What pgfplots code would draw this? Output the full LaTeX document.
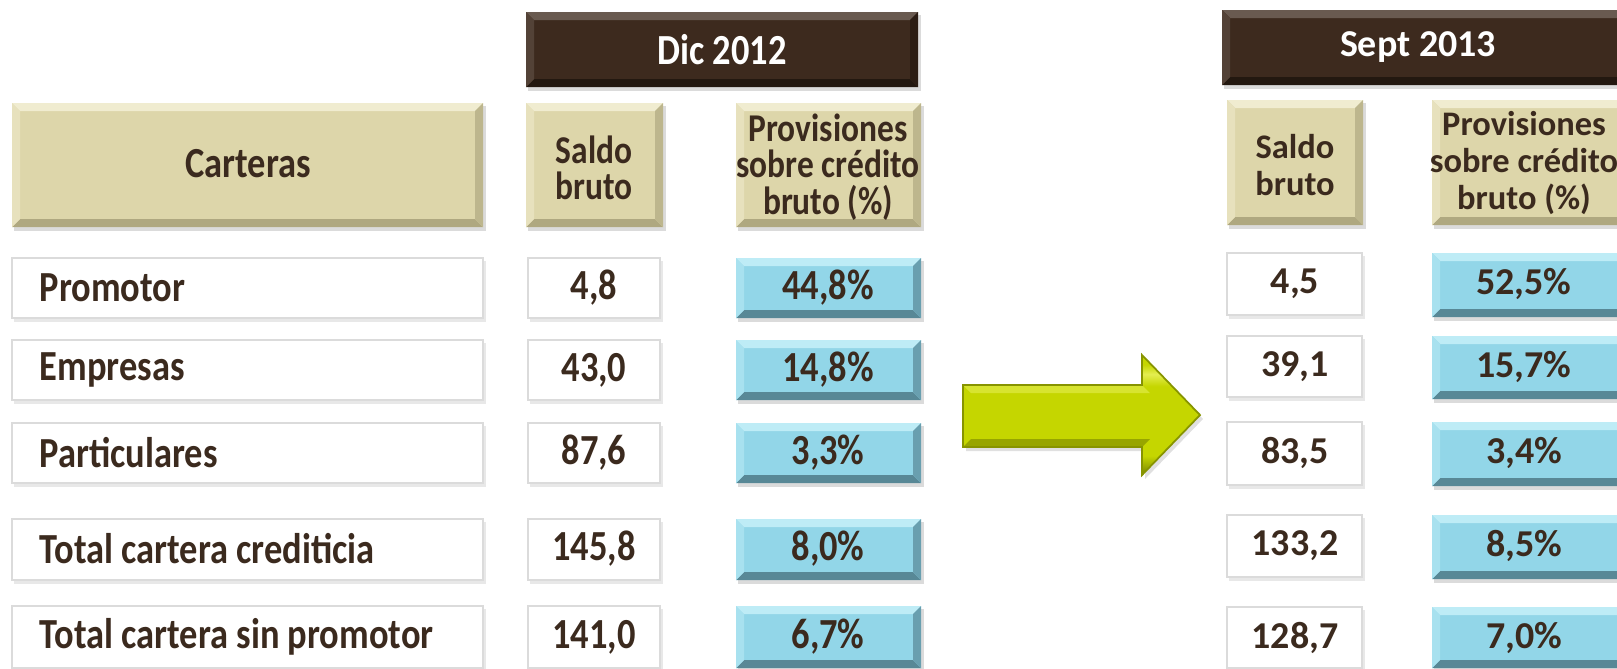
\documentclass[border=0pt]{standalone}
\usepackage{pgfplots}
\pgfplotsset{compat=1.18}
\usepackage{pgfplotstable}
\usepackage{fontspec}
\setmainfont{Carlito}
\newfontfamily\narrowfont[FakeStretch=0.85]{Carlito}

\definecolor{txt}{RGB}{59,42,30}
\definecolor{brownB}{RGB}{61,42,30}
\definecolor{brownL}{RGB}{105,90,80}
\definecolor{brownD}{RGB}{35,24,16}
\definecolor{beigeB}{RGB}{221,214,170}
\definecolor{beigeL}{RGB}{240,236,208}
\definecolor{beigeD}{RGB}{175,168,128}
\definecolor{blueB}{RGB}{146,214,232}
\definecolor{blueL}{RGB}{190,236,246}
\definecolor{blueD}{RGB}{88,136,150}
\definecolor{arrowB}{RGB}{197,214,0}
\definecolor{arrowL}{RGB}{228,238,80}
\definecolor{arrowD}{RGB}{120,132,0}

% the path's bounding box covers 25bp..75bp of the shading
\pgfdeclareverticalshading{arrowsh}{100bp}{color(0bp)=(arrowD); color(25bp)=(arrowD); color(33bp)=(arrowB); color(62bp)=(arrowB); color(67bp)=(arrowL); color(71bp)=(arrowB); color(100bp)=(arrowB)}

\newcommand{\leftfont}{\narrowfont\bfseries\fontsize{12.2}{10.4}\selectfont}
\newcommand{\leftsmall}{\narrowfont\bfseries\fontsize{11.2}{10.3}\selectfont}
\newcommand{\rightfont}{\bfseries\fontsize{10.8}{10.4}\selectfont}
\newcommand{\rightsmall}{\bfseries\fontsize{9.8}{10.5}\selectfont}

% x1 y1 x2 y2 base light dark (pixel units, y downwards)
\newcommand{\bbox}[7]{%
  \fill[black!40, opacity=0.35] (axis cs:#1+2,#2+3) rectangle (axis cs:#3+3,#4+4);
  \fill[#5] (axis cs:#1,#2) rectangle (axis cs:#3,#4);
  \fill[#6] (axis cs:#1,#2) -- (axis cs:#3,#2) -- (axis cs:#3-8,#2+8) -- (axis cs:#1+8,#2+8) -- cycle;
  \fill[#7] (axis cs:#1,#4) -- (axis cs:#3,#4) -- (axis cs:#3-8,#4-8) -- (axis cs:#1+8,#4-8) -- cycle;
  \fill[#7!70!#5] (axis cs:#3,#2) -- (axis cs:#3,#4) -- (axis cs:#3-8,#4-8) -- (axis cs:#3-8,#2+8) -- cycle;
  \fill[#6!50!#5] (axis cs:#1,#2) -- (axis cs:#1,#4) -- (axis cs:#1+8,#4-8) -- (axis cs:#1+8,#2+8) -- cycle;
}
\newcommand{\wbox}[4]{%
  \fill[black!30, opacity=0.3] (axis cs:#1+2,#2+3) rectangle (axis cs:#3+3,#4+4);
  \filldraw[fill=white, draw=black!14, line width=0.8pt] (axis cs:#1,#2) rectangle (axis cs:#3,#4);
}

\pgfplotstableread{
name yl yr s12 p12 s13 p13
Promotor 288 284 4.8 44.8 4.5 52.5
Empresas 370 367 43.0 14.8 39.1 15.7
Particulares 453 453 87.6 3.3 83.5 3.4
{Total cartera crediticia} 549 546 145.8 8.0 133.2 8.5
{Total cartera sin promotor} 637 638 141.0 6.7 128.7 7.0
}\data

\begin{document}
\begin{tikzpicture}
\begin{axis}[
  width=16.17cm, height=6.68cm, scale only axis,
  xmin=0, xmax=1617, ymin=0, ymax=668, y dir=reverse,
  hide axis, clip=true,
  /pgf/number format/.cd, use comma, fixed, fixed zerofill, precision=1, assume math mode=true]

% headers
\bbox{526}{12}{918}{87}{brownB}{brownL}{brownD}
\bbox{1222}{10}{1630}{85}{brownB}{brownL}{brownD}
\bbox{12}{103}{483}{227}{beigeB}{beigeL}{beigeD}
\bbox{526}{103}{663}{227}{beigeB}{beigeL}{beigeD}
\bbox{736}{103}{921}{227}{beigeB}{beigeL}{beigeD}
\bbox{1227}{100}{1363}{225}{beigeB}{beigeL}{beigeD}
\bbox{1432}{100}{1630}{225}{beigeB}{beigeL}{beigeD}

% row boxes, Dic 2012
\wbox{12}{258}{483}{318}   \wbox{528}{258}{660}{318}  \bbox{736}{258}{921}{318}{blueB}{blueL}{blueD}
\wbox{12}{340}{483}{400}   \wbox{528}{340}{660}{400}  \bbox{736}{340}{921}{400}{blueB}{blueL}{blueD}
\wbox{12}{423}{483}{483}   \wbox{528}{423}{660}{483}  \bbox{736}{423}{921}{483}{blueB}{blueL}{blueD}
\wbox{12}{519}{483}{580}   \wbox{528}{519}{660}{580}  \bbox{736}{519}{921}{580}{blueB}{blueL}{blueD}
\wbox{12}{606}{483}{668}   \wbox{528}{606}{660}{668}  \bbox{736}{606}{921}{668}{blueB}{blueL}{blueD}

% row boxes, Sept 2013
\wbox{1227}{253}{1362}{315}  \bbox{1432}{253}{1630}{317}{blueB}{blueL}{blueD}
\wbox{1227}{336}{1362}{397}  \bbox{1432}{336}{1630}{399}{blueB}{blueL}{blueD}
\wbox{1227}{422}{1362}{485}  \bbox{1432}{422}{1630}{486}{blueB}{blueL}{blueD}
\wbox{1227}{515}{1362}{577}  \bbox{1432}{515}{1630}{579}{blueB}{blueL}{blueD}
\wbox{1227}{607}{1362}{668}  \bbox{1432}{607}{1630}{668}{blueB}{blueL}{blueD}

% arrow
\fill[black!40, opacity=0.3]
  (axis cs:966,389) -- (axis cs:1145,389) -- (axis cs:1145,359) -- (axis cs:1203,419)
  -- (axis cs:1145,479) -- (axis cs:1145,451) -- (axis cs:966,451) -- cycle;
\shade[shading=arrowsh]
  (axis cs:963,385) -- (axis cs:1142,385) -- (axis cs:1142,355) -- (axis cs:1200,415)
  -- (axis cs:1142,475) -- (axis cs:1142,447) -- (axis cs:963,447) -- cycle;
\fill[arrowL!60!arrowB]
  (axis cs:963,385) -- (axis cs:1142,385) -- (axis cs:1150,393) -- (axis cs:971,393) -- cycle;
\fill[arrowD!60!arrowB]
  (axis cs:963,447) -- (axis cs:1142,447) -- (axis cs:1150,439) -- (axis cs:971,439) -- cycle;
\draw[arrowD!80!arrowB, line width=0.5pt]
  (axis cs:963,385) -- (axis cs:1142,385) -- (axis cs:1142,355) -- (axis cs:1200,415)
  -- (axis cs:1142,475) -- (axis cs:1142,447) -- (axis cs:963,447) -- cycle;

% header text
\node[text=white, font=\leftfont] at (axis cs:722,50) {Dic 2012};
\node[text=white, font=\rightfont] at (axis cs:1418,47) {Sept 2013};
\node[text=txt, font=\leftfont] at (axis cs:248,164) {Carteras};
\node[text=txt, font=\leftsmall, align=center] at (axis cs:594,168) {Saldo\\bruto};
\node[text=txt, font=\leftsmall, align=center] at (axis cs:828,167) {Provisiones\\sobre crédito\\bruto (\%)};
\node[text=txt, font=\rightsmall, align=center] at (axis cs:1295,165) {Saldo\\bruto};
\node[text=txt, font=\rightsmall, align=center] at (axis cs:1524,163) {Provisiones\\sobre crédito\\bruto (\%)};

% row labels
\addplot[draw=none, mark=none, point meta=explicit symbolic, nodes near coords,
  nodes near coords style={anchor=west, inner sep=0pt, font=\leftfont, text=txt}]
  table[x expr=39, y=yl, meta=name] {\data};
% values Dic 2012
\addplot[draw=none, mark=none, point meta=explicit, nodes near coords={\pgfmathprintnumber{\pgfplotspointmeta}},
  nodes near coords style={anchor=center, font=\leftfont, text=txt}]
  table[x expr=594, y=yl, meta=s12] {\data};
\addplot[draw=none, mark=none, point meta=explicit, nodes near coords={\pgfmathprintnumber{\pgfplotspointmeta}\%},
  nodes near coords style={anchor=center, font=\leftfont, text=txt}]
  table[x expr=828, y=yl, meta=p12] {\data};
% values Sept 2013
\addplot[draw=none, mark=none, point meta=explicit, nodes near coords={\pgfmathprintnumber{\pgfplotspointmeta}},
  nodes near coords style={anchor=center, font=\rightfont, text=txt}]
  table[x expr=1295, y=yr, meta=s13] {\data};
\addplot[draw=none, mark=none, point meta=explicit, nodes near coords={\pgfmathprintnumber{\pgfplotspointmeta}\%},
  nodes near coords style={anchor=center, font=\rightfont, text=txt}]
  table[x expr=1524, y=yr, meta=p13] {\data};
\end{axis}
\pgfresetboundingbox
\path (current axis.south west) rectangle (current axis.north east);
\end{tikzpicture}
\end{document}
